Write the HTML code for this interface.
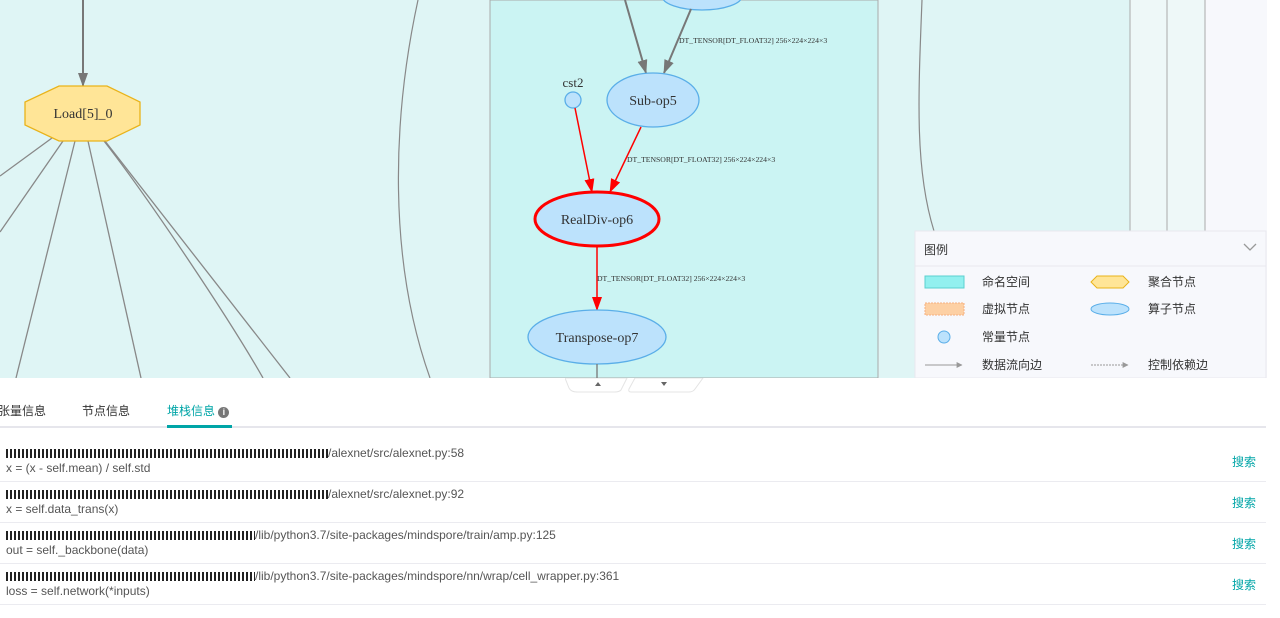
<!DOCTYPE html>
<html><head><meta charset="utf-8"><style>
body{margin:0;width:1280px;height:618px;overflow:hidden;background:#fff;font-family:"Liberation Sans","Noto Sans CJK SC",sans-serif;position:relative}
.abs{position:absolute}
.tab{position:absolute;top:402px;font-size:12px;color:#333}
.row{position:absolute;left:0;width:1266px;height:41px;border-bottom:1px solid #ebebf0}
.p{position:absolute;left:6px;top:6px;font-size:12px;color:#555;white-space:nowrap}
.c{position:absolute;left:6px;top:21px;font-size:12px;color:#555}
.red{display:inline-block;height:9px;vertical-align:-1px;background:repeating-linear-gradient(90deg,#222 0 2px,#fff 2px 4px),#222;background-size:4px 4px;}
.s{position:absolute;right:10px;top:13px;font-size:12px;color:#00a5a7}
</style></head><body>
<svg class="abs" style="left:0;top:0" width="1280" height="378">
<defs>
<marker id="ag" viewBox="0 0 14 10" refX="13" refY="5" markerWidth="14" markerHeight="10" markerUnits="userSpaceOnUse" orient="auto"><path d="M0,0L14,5L0,10z" fill="#777"/></marker>
<marker id="ar" viewBox="0 0 14 10" refX="13" refY="5" markerWidth="14" markerHeight="10" markerUnits="userSpaceOnUse" orient="auto"><path d="M0,0L14,5L0,10z" fill="#f00"/></marker>
<marker id="al" viewBox="0 0 10 10" refX="9" refY="5" markerWidth="6" markerHeight="6" orient="auto"><path d="M0,0L10,5L0,10z" fill="#999"/></marker>
</defs>
<rect width="1280" height="378" fill="#dff5f5"/>
<rect x="490" y="0" width="388" height="378" fill="#cbf4f3" stroke="#aaa"/>
<rect x="1130" y="0" width="75" height="378" fill="#eef8f8"/>
<rect x="1205" y="0" width="62" height="378" fill="#f7f8fc"/>
<rect x="1267" y="0" width="13" height="378" fill="#fff"/>
<line x1="1130" y1="0" x2="1130" y2="378" stroke="#aaa"/>
<line x1="1167" y1="0" x2="1167" y2="378" stroke="#aaa"/>
<line x1="1205" y1="0" x2="1205" y2="378" stroke="#aaa"/>
<path d="M922,0 C918,100 915,170 934,231" stroke="#888" fill="none" stroke-width="1.2"/>
<path d="M418,0 C392,120 388,260 430,378" stroke="#888" fill="none" stroke-width="1.2"/>
<g stroke="#888" stroke-width="1.3" fill="none">
<line x1="52" y1="138" x2="0" y2="176"/>
<line x1="63" y1="141" x2="0" y2="232"/>
<line x1="75" y1="141" x2="16" y2="378"/>
<line x1="88" y1="141" x2="141" y2="378"/>
<path d="M104,141 C150,200 230,320 263,378"/>
<line x1="105" y1="141" x2="290" y2="378"/>
</g>
<line x1="83" y1="0" x2="83" y2="86" stroke="#777" stroke-width="2" marker-end="url(#ag)"/>
<polygon points="59,86 107,86 140,102 140,125 107,141 59,141 25,125 25,102" fill="#ffe597" stroke="#e9b31a" stroke-width="1.3"/>
<text x="83" y="118" text-anchor="middle" font-family="Liberation Serif" font-size="14" fill="#333">Load[5]_0</text>
<ellipse cx="702" cy="-4" rx="40" ry="14" fill="#bce2fc" stroke="#5aaee8" stroke-width="1.3"/>
<line x1="625" y1="0" x2="646" y2="73" stroke="#777" stroke-width="2" marker-end="url(#ag)"/>
<line x1="691" y1="9" x2="664" y2="73" stroke="#777" stroke-width="2" marker-end="url(#ag)"/>
<text x="679" y="43" font-family="Liberation Serif" font-size="7.7" fill="#333">DT_TENSOR[DT_FLOAT32] 256×224×224×3</text>
<ellipse cx="653" cy="100" rx="46" ry="27" fill="#bce2fc" stroke="#5aaee8" stroke-width="1.3"/>
<text x="653" y="105" text-anchor="middle" font-family="Liberation Serif" font-size="14" fill="#333">Sub-op5</text>
<text x="573" y="87" text-anchor="middle" font-family="Liberation Serif" font-size="13" fill="#333">cst2</text>
<circle cx="573" cy="100" r="8" fill="#bce2fc" stroke="#5aaee8" stroke-width="1.3"/>
<line x1="575" y1="108" x2="592" y2="192" stroke="#f00" stroke-width="1.5" marker-end="url(#ar)"/>
<line x1="641" y1="127" x2="610" y2="192" stroke="#f00" stroke-width="1.5" marker-end="url(#ar)"/>
<text x="627" y="162" font-family="Liberation Serif" font-size="7.7" fill="#333">DT_TENSOR[DT_FLOAT32] 256×224×224×3</text>
<ellipse cx="597" cy="219" rx="62" ry="27" fill="#bce2fc" stroke="#f00" stroke-width="3"/>
<text x="597" y="224" text-anchor="middle" font-family="Liberation Serif" font-size="14" fill="#333">RealDiv-op6</text>
<line x1="597" y1="247" x2="597" y2="310" stroke="#f00" stroke-width="1.5" marker-end="url(#ar)"/>
<text x="597" y="281" font-family="Liberation Serif" font-size="7.7" fill="#333">DT_TENSOR[DT_FLOAT32] 256×224×224×3</text>
<ellipse cx="597" cy="337" rx="69" ry="27" fill="#bce2fc" stroke="#5aaee8" stroke-width="1.3"/>
<text x="597" y="342" text-anchor="middle" font-family="Liberation Serif" font-size="14" fill="#333">Transpose-op7</text>
<line x1="597" y1="364" x2="597" y2="378" stroke="#777" stroke-width="1.3"/>
<rect x="915" y="231" width="351" height="147" fill="#f7f8fc" stroke="#e8e8ee"/>
<line x1="915" y1="266" x2="1266" y2="266" stroke="#e8e8ee"/>
<text x="924" y="254" font-size="12" fill="#333" font-family="Liberation Sans,Noto Sans CJK SC">图例</text>
<path d="M1244,244 L1250,250 L1256,244" stroke="#999" fill="none" stroke-width="1.3"/>
<rect x="925" y="276" width="39" height="12" fill="#92f0ef" stroke="#5bd0cf"/>
<rect x="925" y="303" width="39" height="12" fill="#fdd0a4" stroke="#f5b080" stroke-dasharray="2,1"/>
<circle cx="944" cy="337" r="6" fill="#bce2fc" stroke="#5aaee8"/>
<line x1="925" y1="365" x2="962" y2="365" stroke="#999" marker-end="url(#al)"/>
<polygon points="1097,276 1123,276 1129,282 1123,288 1097,288 1091,282" fill="#ffe597" stroke="#e9b31a"/>
<ellipse cx="1110" cy="309" rx="19" ry="6" fill="#bce2fc" stroke="#5aaee8"/>
<line x1="1091" y1="365" x2="1128" y2="365" stroke="#999" stroke-dasharray="2,1" marker-end="url(#al)"/>
<g font-size="12" fill="#333" font-family="Liberation Sans,Noto Sans CJK SC">
<text x="982" y="286">命名空间</text><text x="982" y="313">虚拟节点</text><text x="982" y="341">常量节点</text><text x="982" y="369">数据流向边</text>
<text x="1148" y="286">聚合节点</text><text x="1148" y="313">算子节点</text><text x="1148" y="369">控制依赖边</text>
</g>
</svg>
<svg class="abs" style="left:565px;top:378px" width="140" height="16">
<path d="M0,0 L62,0 L56,12 Q54,14 50,14 L12,14 Q6,14 4,10Z" fill="#fff" stroke="#e4e4e4"/>
<path d="M70,0 L138,0 L130,11 Q128,14 124,14 L66,14 Q63,14 64,11Z" fill="#fff" stroke="#e4e4e4"/>
<path d="M33,4 L36,8 L30,8z" fill="#666"/><path d="M96,4 L102,4 L99,8z" fill="#666"/>
</svg>
<div class="tab" style="left:-2px">张量信息</div>
<div class="tab" style="left:82px">节点信息</div>
<div class="tab" style="left:167px;color:#00a5a7">堆栈信息 <span style="display:inline-block;width:11px;height:11px;border-radius:50%;background:#777;color:#fff;font-size:9px;text-align:center;line-height:11px;font-weight:bold;vertical-align:0">i</span></div>
<div class="abs" style="left:0;top:426px;width:1266px;height:2px;background:#e6e6ec"></div>
<div class="abs" style="left:167px;top:425px;width:65px;height:3px;background:#00a5a7"></div>
<div class="row" style="top:440px"><div class="p"><span class="red" style="width:322px"></span>/alexnet/src/alexnet.py:58</div><div class="c">x = (x - self.mean) / self.std</div><div class="s">搜索</div></div>
<div class="row" style="top:481px"><div class="p"><span class="red" style="width:322px"></span>/alexnet/src/alexnet.py:92</div><div class="c">x = self.data_trans(x)</div><div class="s">搜索</div></div>
<div class="row" style="top:522px"><div class="p"><span class="red" style="width:249px"></span>/lib/python3.7/site-packages/mindspore/train/amp.py:125</div><div class="c">out = self._backbone(data)</div><div class="s">搜索</div></div>
<div class="row" style="top:563px"><div class="p"><span class="red" style="width:249px"></span>/lib/python3.7/site-packages/mindspore/nn/wrap/cell_wrapper.py:361</div><div class="c">loss = self.network(*inputs)</div><div class="s">搜索</div></div>
</body></html>
